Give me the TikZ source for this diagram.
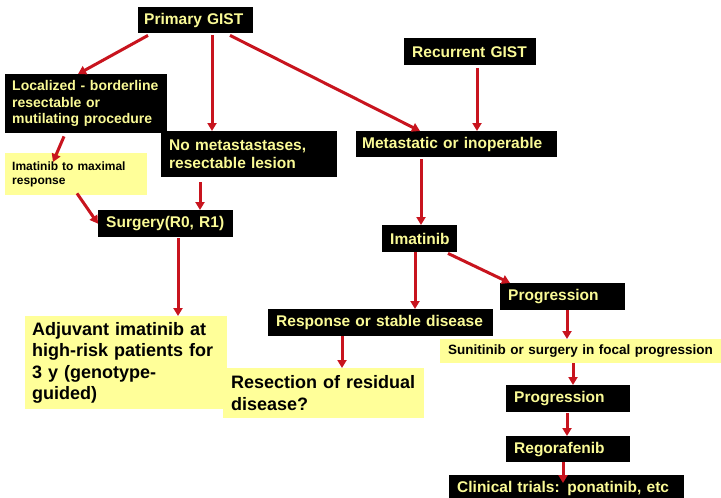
\documentclass[tikz,border=0pt]{standalone}
\usepackage{fontspec}
\setmainfont{Liberation Sans}
\usetikzlibrary{arrows.meta}
\definecolor{gisttext}{RGB}{250,250,150}
\definecolor{gistfill}{RGB}{255,255,153}
\definecolor{gistred}{RGB}{200,20,30}

\begin{document}
\begin{tikzpicture}[x=1pt, y=-1pt,
      blk/.style={fill=black, text=gisttext, anchor=north west, align=left,
                  inner xsep=8pt, inner ysep=0pt},
      ylw/.style={fill=gistfill, text=black, anchor=north west, align=left,
                  inner xsep=7pt, inner ysep=0pt},
      arr/.style={draw=gistred, line width=3pt,
                  -{Triangle[length=8pt,width=9pt]}}]
    \useasboundingbox[fill=white] (0,0) rectangle (721,498);
    % black boxes
    \node[blk, inner xsep=6pt, text width=103pt, minimum height=26pt,
          font=\bfseries\fontsize{15.5}{18}\selectfont] (prim) at (138,7) {Primary GIST};
    \node[blk, text width=116pt, minimum height=27pt,
          font=\bfseries\fontsize{15.5}{18}\selectfont] (recur) at (404,38) {Recurrent GIST};
    \node[blk, inner xsep=7pt, text width=148pt, minimum height=59pt,
          font=\bfseries\fontsize{14}{16.5}\selectfont] (local) at (5,74)
          {Localized - borderline\\resectable or\\mutilating procedure};
    \node[blk, text width=160pt, minimum height=46pt,
          font=\bfseries\fontsize{15.5}{18}\selectfont] (nomet) at (161,131)
          {No metastastases,\\resectable lesion};
    \node[blk, inner xsep=6pt, text width=189pt, minimum height=26pt,
          font=\bfseries\fontsize{15.5}{18}\selectfont] (metas) at (356,131) {Metastatic or inoperable};
    \node[blk, text width=119pt, minimum height=27pt,
          font=\bfseries\fontsize{15.5}{18}\selectfont] (surg) at (98,210) {Surgery(R0, R1)};
    \node[blk, text width=59pt, minimum height=27pt,
          font=\bfseries\fontsize{15.5}{18}\selectfont] (imat) at (382,225) {Imatinib};
    \node[blk, text width=209pt, minimum height=27pt,
          font=\bfseries\fontsize{15.5}{18}\selectfont] (resp) at (268,309) {Response or stable disease};
    \node[blk, text width=109pt, minimum height=27pt,
          font=\bfseries\fontsize{15.5}{18}\selectfont] (prog1) at (500,283) {Progression};
    \node[blk, text width=108pt, minimum height=27pt,
          font=\bfseries\fontsize{15.5}{18}\selectfont] (prog2) at (506,385) {Progression};
    \node[blk, text width=108pt, minimum height=26pt,
          font=\bfseries\fontsize{15.5}{18}\selectfont] (regor) at (506,436) {Regorafenib};
    \node[blk, text width=219pt, minimum height=27pt,
          font=\bfseries\fontsize{15.5}{18}\selectfont] (clin) at (449,475) {Clinical trials: ponatinib, etc};
    % yellow boxes
    \node[ylw, text width=128pt, minimum height=42pt,
          font=\bfseries\fontsize{12}{14}\selectfont] (imax) at (5,153)
          {Imatinib to maximal\\response};
    \node[ylw, text width=188pt, minimum height=93pt,
          font=\bfseries\fontsize{18}{21.5}\selectfont] (adjuv) at (25,316)
          {Adjuvant imatinib at\\high-risk patients for\\3 y (genotype-\\guided)};
    \node[ylw, inner xsep=8pt, text width=185pt, minimum height=50pt,
          font=\bfseries\fontsize{18}{21.5}\selectfont] (resec) at (223,368)
          {Resection of residual\\disease?};
    \node[ylw, inner xsep=8pt, text width=265pt, minimum height=24pt,
          font=\bfseries\fontsize{13.5}{16}\selectfont] (sunit) at (440,339)
          {Sunitinib or surgery in focal progression};
    % arrows
    \draw[arr] ([xshift=10pt,yshift=-2pt]prim.south west) -- ([xshift=73pt]local.north west);
    \draw[arr] ([xshift=74pt,yshift=-2pt]prim.south west) -- ([xshift=51pt]nomet.north west);
    \draw[arr] ([xshift=92pt,yshift=-2pt]prim.south west) -- ([xshift=64pt]metas.north west);
    \draw[arr] ([xshift=73pt,yshift=-3pt]recur.south west) -- ([xshift=121pt]metas.north west);
    \draw[arr] ([xshift=59pt,yshift=-3pt]local.south west) -- ([xshift=48pt,yshift=-9pt]imax.north west);
    \draw[arr] ([xshift=72pt,yshift=2pt]imax.south west) -- (surg.west);
    \draw[arr] ([xshift=39pt,yshift=-5pt]nomet.south west) -- ([xshift=102pt]surg.north west);
    \draw[arr] ([xshift=80pt,yshift=-1pt]surg.south west) -- ([xshift=153pt]adjuv.north west);
    \draw[arr] ([xshift=65pt,yshift=-2pt]metas.south west) -- ([xshift=39pt]imat.north west);
    \draw[arr] ([xshift=33pt]imat.south west) -- ([xshift=147pt]resp.north west);
    \draw[arr] ([xshift=66pt,yshift=-1pt]imat.south west) -- ([xshift=10pt]prog1.north west);
    \draw[arr] ([xshift=74pt]resp.south west) -- ([xshift=119pt]resec.north west);
    \draw[arr] ([xshift=67pt]prog1.south west) -- ([xshift=127pt]sunit.north west);
    \draw[arr] ([xshift=133pt]sunit.south west) -- ([xshift=67pt]prog2.north west);
    \draw[arr] ([xshift=61pt,yshift=-1pt]prog2.south west) -- ([xshift=61pt]regor.north west);
    \draw[arr] ([xshift=57pt]regor.south west) -- ([xshift=114pt,yshift=-8pt]clin.north west);
\end{tikzpicture}
\end{document}
